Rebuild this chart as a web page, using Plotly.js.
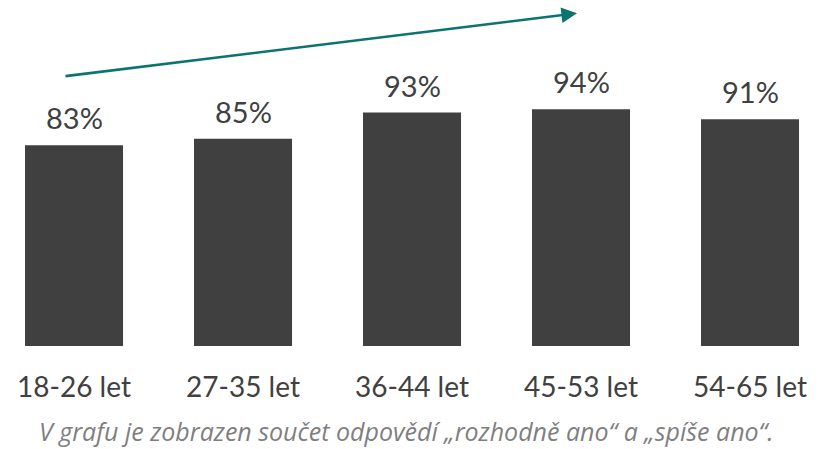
<!DOCTYPE html>
<html>
<head>
<meta charset="utf-8">
<script src="https://cdn.plot.ly/plotly-3.0.1.min.js"></script>
<style>html,body{margin:0;padding:0;background:#fff;}#chart{width:821px;height:449px;}</style>
</head>
<body>
<div id="chart"></div>
<script>
const categories = ["18-26 let", "27-35 let", "36-44 let", "45-53 let", "54-65 let"];
const values = [83, 85, 93, 94, 91];
const valueLabels = ["83%", "85%", "93%", "94%", "91%"];
const caption = "V grafu je zobrazen sou\u010det odpov\u011bd\u00ed \u201erozhodn\u011b ano\u201c a \u201esp\u00ed\u0161e ano\u201c.";

const FONT = "Lato, 'Open Sans', sans-serif";
const barTrace = {
  type: "bar",
  x: categories,
  y: values,
  marker: { color: "#404040" },
  hoverinfo: "skip"
};

const labelAnnotations = categories.map((c, i) => ({
  x: c, y: values[i], xref: "x", yref: "y",
  text: valueLabels[i], showarrow: false,
  yanchor: "bottom", yshift: 8,
  font: { family: FONT, size: 29, color: "#404040" }
}));

const layout = {
  width: 821, height: 449,
  margin: { l: 0, r: 0, t: 0, b: 103 },
  paper_bgcolor: "#ffffff", plot_bgcolor: "#ffffff",
  showlegend: false,
  bargap: 0.42,
  xaxis: {
    type: "category",
    range: [-0.438, 4.42],
    showgrid: false, zeroline: false, showline: false, ticks: "",
    tickfont: { family: FONT, size: 28, color: "#404040" },
    ticklabelstandoff: 22,
    fixedrange: true
  },
  yaxis: {
    range: [21.3, 127.6],
    visible: false, showgrid: false, zeroline: false, fixedrange: true
  },
  annotations: labelAnnotations.concat([
    {
      xref: "paper", yref: "paper", x: 0.7028, y: 0.9616,
      ax: -513, ay: 63, axref: "pixel", ayref: "pixel",
      text: "", showarrow: true, arrowhead: 2, arrowsize: 1.2, arrowwidth: 2.6,
      arrowcolor: "#0b7470", standoff: 0
    },
    {
      xref: "paper", yref: "paper", x: 0.4957, y: -0.2457,
      xanchor: "center", yanchor: "middle",
      text: caption, showarrow: false,
      font: { family: "'Open Sans', sans-serif", size: 25, color: "#7f7f7f", style: "italic" }
    }
  ])
};

Plotly.newPlot("chart", [barTrace], layout, { staticPlot: true, displayModeBar: false });
</script>
</body>
</html>
